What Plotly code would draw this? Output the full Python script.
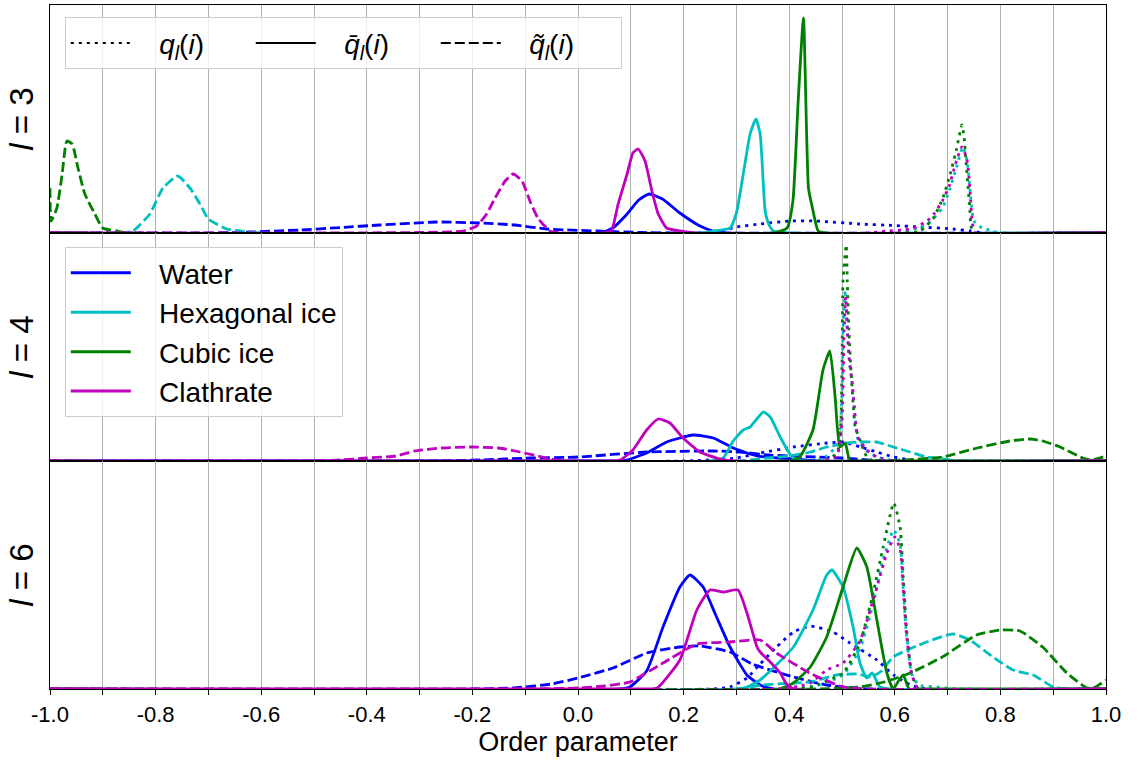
import plotly.graph_objects as go
from plotly.subplots import make_subplots

# ---------------- data (density, arbitrary units) ----------------
# l = 3
L3_WATER_Q_X = [-1.0, 0.22, 0.26, 0.30, 0.345, 0.40, 0.45, 0.534, 0.60, 0.648, 0.71, 0.742, 0.77, 1.0]
L3_WATER_Q_Y = [0, 0, 1, 6, 9, 12, 12, 9, 7.5, 6, 4, 2, 0, 0]
L3_WATER_QBAR_X = [-1.0, 0.04, 0.066, 0.093, 0.115, 0.135, 0.16, 0.193, 0.231, 0.256, 0.28, 1.0]
L3_WATER_QBAR_Y = [0, 0, 5, 19, 33, 39, 34, 20, 7, 2, 0, 0]
L3_WATER_QTIL_X = [-1.0, -0.68, -0.62, -0.527, -0.45, -0.375, -0.267, -0.186, -0.12, -0.06, 0.036, 0.12, 0.2, 1.0]
L3_WATER_QTIL_Y = [0, 0, 1, 3, 5.5, 8, 11, 10, 8, 4, 2, 0.5, 0, 0]

L3_HEX_Q_X = [-1.0, 0.6, 0.66, 0.69, 0.705, 0.718, 0.729, 0.737, 0.743, 0.75, 0.765, 0.786, 0.8, 1.0]
L3_HEX_Q_Y = [0, 0, 8, 25, 45, 68, 86, 72, 40, 12, 5, 2, 0, 0]
L3_HEX_QBAR_X = [-1.0, 0.23, 0.256, 0.288, 0.30, 0.313, 0.326, 0.337, 0.345, 0.3545, 0.362, 0.37, 0.40, 1.0]
L3_HEX_QBAR_Y = [0, 0, 2, 5, 20, 59, 99, 114, 99, 22, 8, 2, 0, 0]
L3_HEX_QTIL_X = [-1.0, -0.87, -0.843, -0.811, -0.786, -0.758, -0.735, -0.716, -0.70, -0.665, -0.64, -0.60, 1.0]
L3_HEX_QTIL_Y = [0, 0, 2, 19, 45, 57, 45, 29, 14, 4, 2, 0, 0]

L3_CUBIC_Q_X = [-1.0, 0.62, 0.648, 0.672, 0.691, 0.705, 0.717, 0.727, 0.7315, 0.735, 0.739, 0.742, 0.745, 0.75, 1.0]
L3_CUBIC_Q_Y = [0, 0, 2, 14, 35, 59, 84, 108, 95, 70, 45, 25, 5, 0, 0]
L3_CUBIC_QBAR_X = [-1.0, 0.37, 0.396, 0.407, 0.417, 0.427, 0.4365, 0.444, 0.455, 0.47, 1.0]
L3_CUBIC_QBAR_Y = [0, 0, 5, 32, 132, 215, 45, 25, 2, 0, 0]
L3_CUBIC_QTIL_X = [-1.0, -0.998, -0.987, -0.977, -0.968, -0.958, -0.947, -0.934, -0.915, -0.90, -0.873, -0.85, 1.0]
L3_CUBIC_QTIL_Y = [45, 12, 25, 59, 92, 89, 65, 39, 19, 5, 2, 0, 0]

L3_CLA_Q_X = [-1.0, 0.55, 0.585, 0.617, 0.636, 0.661, 0.674, 0.69, 0.703, 0.715, 0.727, 0.736, 0.740, 0.743, 0.746, 0.752, 1.0]
L3_CLA_Q_Y = [0, 0, 2, 3, 5, 12, 19, 32, 47, 69, 86, 75, 59, 39, 15, 0, 0]
L3_CLA_QBAR_X = [-1.0, 0.045, 0.063, 0.076, 0.093, 0.104, 0.114, 0.127, 0.14, 0.152, 0.168, 0.193, 0.22, 1.0]
L3_CLA_QBAR_Y = [0, 0, 2, 29, 59, 80, 84, 72, 42, 19, 5, 2, 0, 0]
L3_CLA_QTIL_X = [-1.0, -0.3, -0.218, -0.192, -0.173, -0.157, -0.138, -0.123, -0.106, -0.091, -0.076, -0.053, -0.03, 1.0]
L3_CLA_QTIL_Y = [0, 0.5, 2, 7, 19, 35, 52, 59, 52, 32, 15, 2, 0, 0]

# l = 4
L4_WATER_Q_X = [-1.0, 0.2, 0.3, 0.345, 0.408, 0.472, 0.504, 0.535, 0.566, 0.598, 0.63, 0.66, 1.0]
L4_WATER_Q_Y = [0, 0, 3, 8, 14, 18, 19, 14, 9, 4, 1, 0, 0]
L4_WATER_QBAR_X = [-1.0, 0.07, 0.093, 0.13, 0.168, 0.218, 0.256, 0.294, 0.339, 0.38, 0.42, 0.46, 1.0]
L4_WATER_QBAR_Y = [0, 0, 1, 8, 19, 26, 23, 13, 5, 3, 1.5, 0, 0]
L4_WATER_QTIL_X = [-1.0, -0.3, -0.185, -0.09, 0.0, 0.13, 0.256, 0.307, 0.36, 0.45, 0.5, 0.55, 0.6, 1.0]
L4_WATER_QTIL_Y = [0, 0, 1, 3, 4, 9, 10, 9, 6, 4, 3, 1, 0, 0]

L4_HEX_Q_X = [-1.0, 0.45, 0.471, 0.49, 0.496, 0.50, 0.502, 0.506, 0.51, 0.514, 0.519, 0.525, 0.53, 0.547, 0.566, 0.6, 1.0]
L4_HEX_Q_Y = [0, 0, 5, 15, 31, 68, 131, 171, 135, 100, 78, 42, 22, 10, 4, 0, 0]
L4_HEX_QBAR_X = [-1.0, 0.25, 0.275, 0.294, 0.313, 0.326, 0.351, 0.364, 0.383, 0.40, 0.41, 0.43, 1.0]
L4_HEX_QBAR_Y = [0, 0, 3, 20, 31, 34, 49, 44, 24, 8, 2, 0, 0]
L4_HEX_QTIL_X = [-1.0, 0.3, 0.36, 0.40, 0.44, 0.471, 0.51, 0.534, 0.566, 0.597, 0.629, 0.66, 0.69, 0.72, 1.0]
L4_HEX_QTIL_Y = [0, 0, 3, 5, 9, 14, 18, 19, 19, 14, 9, 4, 2, 0, 0]

L4_CUBIC_Q_X = [-1.0, 0.46, 0.48, 0.493, 0.498, 0.50, 0.502, 0.508, 0.51, 0.513, 0.517, 0.521, 0.525, 0.534, 0.547, 0.56, 1.0]
L4_CUBIC_Q_Y = [0, 0, 3, 12, 40, 97, 181, 216, 181, 131, 91, 58, 34, 21, 4, 0, 0]
L4_CUBIC_QBAR_X = [-1.0, 0.40, 0.42, 0.445, 0.464, 0.477, 0.487, 0.496, 0.506, 0.515, 0.53, 1.0]
L4_CUBIC_QBAR_Y = [0, 0, 4, 31, 91, 110, 64, 14, 18, 0, 0, 0]
L4_CUBIC_QTIL_X = [-1.0, 0.55, 0.62, 0.69, 0.756, 0.818, 0.856, 0.88, 0.913, 0.956, 0.972, 1.0]
L4_CUBIC_QTIL_Y = [0, 0, 1, 4, 13, 20, 22, 20, 14, 3, 1, 5]

L4_CLA_Q_X = [-1.0, 0.46, 0.49, 0.50, 0.504, 0.507, 0.51, 0.514, 0.519, 0.525, 0.53, 0.547, 0.566, 0.6, 1.0]
L4_CLA_Q_Y = [0, 0, 5, 40, 130, 164, 130, 100, 80, 44, 24, 11, 4, 0, 0]
L4_CLA_QBAR_X = [-1.0, 0.06, 0.08, 0.104, 0.13, 0.152, 0.174, 0.199, 0.231, 0.269, 0.3, 1.0]
L4_CLA_QBAR_Y = [0, 0, 1, 11, 31, 42, 38, 23, 9, 2, 0, 0]
L4_CLA_QTIL_X = [-1.0, -0.5, -0.45, -0.40, -0.345, -0.31, -0.26, -0.205, -0.15, -0.11, -0.06, -0.03, 1.0]
L4_CLA_QTIL_Y = [0, 0, 1, 3, 5, 10, 13, 14, 13, 9, 3, 0, 0]

# l = 6
L6_WATER_Q_X = [-1.0, 0.25, 0.288, 0.32, 0.345, 0.376, 0.408, 0.44, 0.483, 0.515, 0.566, 0.598, 0.63, 0.66, 1.0]
L6_WATER_Q_Y = [0, 0, 2, 11, 25, 42, 57, 63, 57, 46, 29, 14, 4, 0, 0]
L6_WATER_QBAR_X = [-1.0, 0.08, 0.098, 0.13, 0.161, 0.193, 0.212, 0.237, 0.26, 0.288, 0.32, 0.345, 0.37, 1.0]
L6_WATER_QBAR_Y = [0, 0, 2, 18, 62, 102, 114, 102, 75, 42, 14, 4, 0, 0]
L6_WATER_QTIL_X = [-1.0, -0.2, -0.123, -0.05, 0.0, 0.066, 0.13, 0.193, 0.231, 0.288, 0.33, 0.408, 0.471, 0.55, 1.0]
L6_WATER_QTIL_Y = [0, 0, 1, 5, 11, 21, 36, 42, 43, 37, 25, 12, 4, 0, 0]

L6_HEX_Q_X = [-1.0, 0.4, 0.45, 0.502, 0.534, 0.559, 0.578, 0.598, 0.61, 0.616, 0.622, 0.632, 0.645, 0.68, 0.72, 1.0]
L6_HEX_Q_Y = [0, 0, 3, 14, 40, 85, 130, 159, 145, 100, 55, 15, 4, 2, 0, 0]
L6_HEX_QBAR_X = [-1.0, 0.3, 0.32, 0.345, 0.408, 0.445, 0.471, 0.481, 0.502, 0.521, 0.534, 0.547, 0.557, 0.572, 0.59, 1.0]
L6_HEX_QBAR_Y = [0, 0, 2, 9, 42, 79, 114, 119, 102, 62, 26, 11, 16, 2, 0, 0]
L6_HEX_QTIL_X = [-1.0, 0.3, 0.35, 0.408, 0.44, 0.49, 0.53, 0.555, 0.575, 0.597, 0.66, 0.71, 0.742, 0.786, 0.824, 0.862, 0.9, 0.93, 1.0]
L6_HEX_QTIL_Y = [0, 0, 4, 6, 7, 14, 15, 12, 18, 32, 47, 55, 49, 32, 19, 14, 2, 0, 0]

L6_CUBIC_Q_X = [-1.0, 0.42, 0.44, 0.502, 0.534, 0.559, 0.578, 0.598, 0.61, 0.616, 0.622, 0.632, 0.645, 1.0]
L6_CUBIC_Q_Y = [0, 0, 2, 16, 46, 96, 142, 186, 162, 112, 62, 16, 0, 0]
L6_CUBIC_QBAR_X = [-1.0, 0.38, 0.408, 0.44, 0.471, 0.502, 0.528, 0.547, 0.566, 0.585, 0.597, 0.607, 0.616, 0.627, 0.64, 1.0]
L6_CUBIC_QBAR_Y = [0, 0, 6, 22, 52, 102, 141, 122, 69, 16, 0, 8, 14, 0, 0, 0]
L6_CUBIC_QTIL_X = [-1.0, 0.45, 0.534, 0.58, 0.629, 0.69, 0.755, 0.80, 0.837, 0.88, 0.926, 0.964, 0.98, 1.0]
L6_CUBIC_QTIL_Y = [0, 0, 2, 7, 16, 32, 54, 59, 58, 42, 16, 1, 2, 9]

L6_CLA_Q_X = [-1.0, 0.38, 0.42, 0.44, 0.471, 0.502, 0.534, 0.566, 0.585, 0.60, 0.61, 0.616, 0.622, 0.632, 0.645, 1.0]
L6_CLA_Q_Y = [0, 0, 3, 6, 19, 26, 48, 102, 136, 152, 140, 100, 55, 15, 0, 0]
L6_CLA_QBAR_X = [-1.0, 0.13, 0.15, 0.193, 0.225, 0.25, 0.275, 0.303, 0.32, 0.339, 0.345, 0.364, 0.383, 0.395, 0.41, 1.0]
L6_CLA_QBAR_Y = [0, 0, 1, 29, 79, 99, 97, 99, 76, 42, 37, 27, 16, 5, 0, 0]
L6_CLA_QTIL_X = [-1.0, -0.1, 0.0, 0.05, 0.098, 0.161, 0.225, 0.288, 0.345, 0.376, 0.439, 0.502, 0.55, 1.0]
L6_CLA_QTIL_Y = [0, 0, 1, 3, 7, 26, 45, 47, 49, 36, 16, 2, 0, 0]

MATERIALS = ["Water", "Hexagonal ice", "Cubic ice", "Clathrate"]
COLORS = ["#0000ff", "#00bfbf", "#008000", "#bf00bf"]
L_VALUES = [3, 4, 6]
TICK_VALS = [round(-1.0 + 0.1 * i, 1) for i in range(21)]
TICK_TEXT = [f"{v:.1f}" if i % 2 == 0 else "" for i, v in enumerate(TICK_VALS)]

STYLE_LABELS = ["<i>q</i><sub><i>l</i></sub>(<i>i</i>)",
                "<i>q\u0304</i><sub><i>l</i></sub>(<i>i</i>)",
                "<i>q\u0303</i><sub><i>l</i></sub>(<i>i</i>)"]
DASHES = ["3px,5px", "solid", "10px,4px"]

CURVES = {
    3: [[(L3_WATER_Q_X, L3_WATER_Q_Y), (L3_WATER_QBAR_X, L3_WATER_QBAR_Y), (L3_WATER_QTIL_X, L3_WATER_QTIL_Y)],
        [(L3_HEX_Q_X, L3_HEX_Q_Y), (L3_HEX_QBAR_X, L3_HEX_QBAR_Y), (L3_HEX_QTIL_X, L3_HEX_QTIL_Y)],
        [(L3_CUBIC_Q_X, L3_CUBIC_Q_Y), (L3_CUBIC_QBAR_X, L3_CUBIC_QBAR_Y), (L3_CUBIC_QTIL_X, L3_CUBIC_QTIL_Y)],
        [(L3_CLA_Q_X, L3_CLA_Q_Y), (L3_CLA_QBAR_X, L3_CLA_QBAR_Y), (L3_CLA_QTIL_X, L3_CLA_QTIL_Y)]],
    4: [[(L4_WATER_Q_X, L4_WATER_Q_Y), (L4_WATER_QBAR_X, L4_WATER_QBAR_Y), (L4_WATER_QTIL_X, L4_WATER_QTIL_Y)],
        [(L4_HEX_Q_X, L4_HEX_Q_Y), (L4_HEX_QBAR_X, L4_HEX_QBAR_Y), (L4_HEX_QTIL_X, L4_HEX_QTIL_Y)],
        [(L4_CUBIC_Q_X, L4_CUBIC_Q_Y), (L4_CUBIC_QBAR_X, L4_CUBIC_QBAR_Y), (L4_CUBIC_QTIL_X, L4_CUBIC_QTIL_Y)],
        [(L4_CLA_Q_X, L4_CLA_Q_Y), (L4_CLA_QBAR_X, L4_CLA_QBAR_Y), (L4_CLA_QTIL_X, L4_CLA_QTIL_Y)]],
    6: [[(L6_WATER_Q_X, L6_WATER_Q_Y), (L6_WATER_QBAR_X, L6_WATER_QBAR_Y), (L6_WATER_QTIL_X, L6_WATER_QTIL_Y)],
        [(L6_HEX_Q_X, L6_HEX_Q_Y), (L6_HEX_QBAR_X, L6_HEX_QBAR_Y), (L6_HEX_QTIL_X, L6_HEX_QTIL_Y)],
        [(L6_CUBIC_Q_X, L6_CUBIC_Q_Y), (L6_CUBIC_QBAR_X, L6_CUBIC_QBAR_Y), (L6_CUBIC_QTIL_X, L6_CUBIC_QTIL_Y)],
        [(L6_CLA_Q_X, L6_CLA_Q_Y), (L6_CLA_QBAR_X, L6_CLA_QBAR_Y), (L6_CLA_QTIL_X, L6_CLA_QTIL_Y)]],
}

FONT = "Liberation Sans, Arial, Helvetica, sans-serif"
LW = 2.8
NB = "\u00a0\u00a0\u00a0"

fig = make_subplots(rows=3, cols=1, shared_xaxes=True, vertical_spacing=0)

for row, l in enumerate(L_VALUES, start=1):
    for m, color in enumerate(COLORS):
        for s, dash in enumerate(DASHES):
            x, y = CURVES[l][m][s]
            fig.add_trace(go.Scatter(
                x=x, y=y, mode="lines",
                line=dict(color=color, width=LW, dash=dash, shape="spline", smoothing=0.5),
                showlegend=False, hoverinfo="skip"), row=row, col=1)

# style legend (top panel)
for s, dash in enumerate(DASHES):
    fig.add_trace(go.Scatter(x=[None], y=[None], mode="lines", name=NB + STYLE_LABELS[s],
                             line=dict(color="black", width=2.2, dash=dash),
                             legend="legend", showlegend=True), row=1, col=1)
# colour legend (middle panel)
for m, color in enumerate(COLORS):
    fig.add_trace(go.Scatter(x=[None], y=[None], mode="lines", name=NB + MATERIALS[m],
                             line=dict(color=color, width=3),
                             legend="legend2", showlegend=True), row=2, col=1)

for row, l in enumerate(L_VALUES, start=1):
    fig.update_yaxes(row=row, col=1, range=[0, 228], showticklabels=False, ticks="",
                     showgrid=False, zeroline=False, showline=True, linecolor="black",
                     linewidth=1.3, mirror=True, layer="below traces",
                     title=dict(text=f"<i>l</i> = {l}", font=dict(size=33, color="black", family=FONT),
                                standoff=5))
    fig.update_xaxes(row=row, col=1, range=[-1.0, 1.0], tickmode="array",
                     tickvals=TICK_VALS, ticktext=TICK_TEXT,
                     showgrid=True, gridcolor="#b0b0b0", gridwidth=1, zeroline=False,
                     showline=True, linecolor="black", linewidth=1.3, mirror=True,
                     layer="below traces",
                     ticks="outside" if row == 3 else "", ticklen=5, tickcolor="black",
                     showticklabels=(row == 3),
                     tickfont=dict(size=22, color="black", family=FONT))

fig.update_xaxes(row=3, col=1, title=dict(text="Order parameter",
                                          font=dict(size=27, color="black", family=FONT), standoff=4))

fig.update_layout(
    width=1138, height=763,
    margin=dict(l=50, r=32, t=5, b=74),
    plot_bgcolor="white", paper_bgcolor="white",
    font=dict(family=FONT, color="black"),
    legend=dict(orientation="h", x=0.014, y=0.982, xanchor="left", yanchor="top",
                font=dict(size=28, color="black", family=FONT),
                bgcolor="rgba(255,255,255,0.8)", bordercolor="#cccccc", borderwidth=1,
                entrywidth=110, itemwidth=60),
    legend2=dict(orientation="v", x=0.014, y=0.646, xanchor="left", yanchor="top",
                 font=dict(size=28, color="black", family=FONT),
                 bgcolor="rgba(255,255,255,0.8)", bordercolor="#cccccc", borderwidth=1,
                 itemwidth=60),
)

fig.write_html("out.html")
